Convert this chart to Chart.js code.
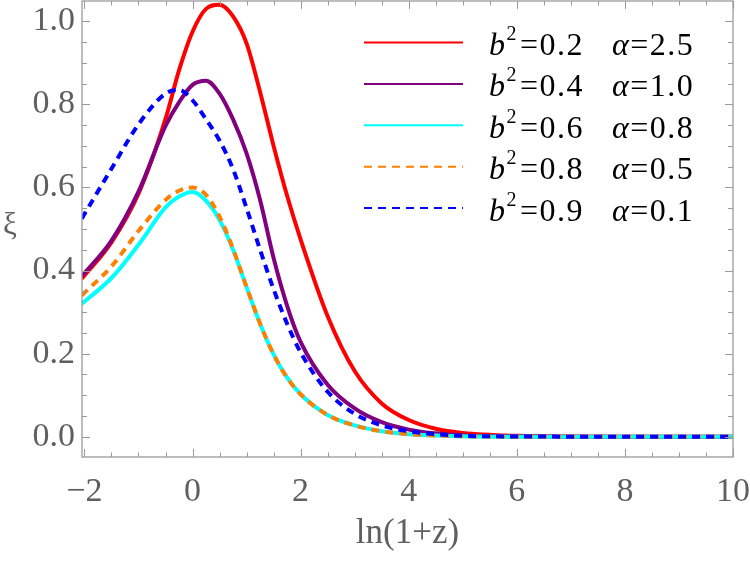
<!DOCTYPE html>
<html>
<head>
<meta charset="utf-8">
<script src="https://cdn.jsdelivr.net/npm/chart.js@4.4.1/dist/chart.umd.min.js"></script>
<style>
  body { margin: 0; background: #fff; }
  #wrap { width: 750px; height: 561px; }
</style>
</head>
<body>
<div id="wrap"><canvas id="myChart" width="750" height="561"></canvas></div>
<script>
// values, x = ln(1+z)
let xValues = [-2.05, -1.5, -1, -0.5, -0.25, 0, 0.25, 0.5, 0.75, 1, 1.25, 1.5, 1.75, 2, 2.5, 3, 3.5, 4, 4.5, 5, 6, 7, 8, 10];
let redXi    = [0.380, 0.468, 0.585, 0.765, 0.882, 0.975, 1.030, 1.040, 1.012, 0.947, 0.830, 0.700, 0.580, 0.475, 0.290, 0.158, 0.080, 0.040, 0.019, 0.009, 0.002, 0.0004, 0, 0];
let purpleXi = [0.386, 0.472, 0.590, 0.748, 0.805, 0.847, 0.857, 0.826, 0.764, 0.682, 0.570, 0.430, 0.315, 0.228, 0.125, 0.068, 0.035, 0.017, 0.008, 0.003, 0.001, 0, 0, 0];
let cyanXi   = [0.320, 0.382, 0.462, 0.552, 0.578, 0.589, 0.568, 0.522, 0.450, 0.360, 0.272, 0.198, 0.142, 0.102, 0.052, 0.027, 0.013, 0.006, 0.003, 0.001, 0, 0, 0, 0];
let orangeXi = [0.340, 0.410, 0.495, 0.570, 0.592, 0.600, 0.582, 0.530, 0.452, 0.360, 0.272, 0.198, 0.142, 0.102, 0.052, 0.027, 0.013, 0.006, 0.003, 0.001, 0, 0, 0, 0];
let blueXi   = [0.525, 0.645, 0.752, 0.826, 0.835, 0.810, 0.764, 0.713, 0.644, 0.550, 0.450, 0.355, 0.272, 0.203, 0.108, 0.055, 0.027, 0.013, 0.006, 0.002, 0.0005, 0, 0, 0];

let bSquared = ['0.2', '0.4', '0.6', '0.8', '0.9'];
let alphas = ['2.5', '1.0', '0.8', '0.5', '0.1'];

let xTicks = [-2, 0, 2, 4, 6, 8, 10];
let yTicks = [0, 0.2, 0.4, 0.6, 0.8, 1.0];

// styles
let colors = ['#ff0000', '#800080', '#00ffff', '#ff8000', '#0000ff'];
let dashes = [[], [], [], [8, 6], [8, 6]];
let frameColor = '#9a9a9a';
let labelColor = '#5f5f5f';
let serif = '"Liberation Serif", "Times New Roman", serif';

function points(ys) {
  return xValues.map((x, i) => ({ x: x, y: ys[i] }));
}

let series = [redXi, purpleXi, cyanXi, orangeXi, blueXi];
let datasets = series.map((ys, i) => ({
  data: points(ys),
  borderColor: colors[i],
  borderWidth: 4,
  borderDash: dashes[i],
  pointRadius: 0,
  fill: false,
  cubicInterpolationMode: 'monotone',
  order: 5 - i
}));

// Mathematica style frame with inward ticks, plus xi label and legend
const framePlugin = {
  id: 'frame',
  afterDatasetsDraw(chart) {
    let { ctx, chartArea: a, scales: { x, y } } = chart;
    ctx.save();
    ctx.strokeStyle = frameColor;
    ctx.lineWidth = 1.3;
    ctx.strokeRect(a.left, a.top, a.right - a.left, a.bottom - a.top);
    ctx.lineWidth = 1;
    ctx.beginPath();
    for (let i = -4; i <= 20; i++) {
      let px = Math.round(x.getPixelForValue(i * 0.5)) + 0.5;
      let len = i % 4 === 0 ? 8 : 4.5;
      ctx.moveTo(px, a.bottom); ctx.lineTo(px, a.bottom - len);
      ctx.moveTo(px, a.top); ctx.lineTo(px, a.top + len);
    }
    for (let i = 0; i <= 20; i++) {
      let py = Math.round(y.getPixelForValue(i * 0.05)) + 0.5;
      let len = i % 4 === 0 ? 8 : 5;
      ctx.moveTo(a.left, py); ctx.lineTo(a.left + len, py);
      ctx.moveTo(a.right, py); ctx.lineTo(a.right - len, py);
    }
    ctx.stroke();

    // y label, upright
    ctx.fillStyle = labelColor;
    ctx.font = '31px ' + serif;
    ctx.textAlign = 'center';
    ctx.textBaseline = 'alphabetic';
    ctx.fillText('ξ', 10, 234);

    // legend
    ctx.textAlign = 'left';
    for (let i = 0; i < colors.length; i++) {
      let ly = 42.5 + i * 41.4;
      ctx.strokeStyle = colors[i];
      ctx.lineWidth = 2;
      ctx.setLineDash(dashes[i]);
      ctx.beginPath();
      ctx.moveTo(364, ly); ctx.lineTo(463, ly);
      ctx.stroke();
      ctx.setLineDash([]);

      let base = ly + 12.5;
      let tx = 489;
      ctx.fillStyle = '#000';
      ctx.letterSpacing = '1.5px';
      ctx.font = 'italic 32px ' + serif;
      ctx.fillText('b', tx, base);
      tx += ctx.measureText('b').width;
      ctx.font = '20px ' + serif;
      ctx.fillText('2', tx, base - 15);
      tx += ctx.measureText('2').width + 2;
      ctx.font = '32px ' + serif;
      ctx.fillText('=' + bSquared[i], tx, base);
      ctx.font = 'italic 32px ' + serif;
      ctx.fillText('α', 612, base);
      let ax = 612 + ctx.measureText('α').width;
      ctx.font = '32px ' + serif;
      ctx.fillText('=' + alphas[i], ax, base);
      ctx.letterSpacing = '0px';
    }
    ctx.restore();
  }
};

let ctx = document.getElementById('myChart').getContext('2d');

let myChart = new Chart(ctx, {
  type: 'line',
  data: { datasets: datasets },
  options: {
    responsive: false,
    animation: false,
    layout: { padding: { left: 0, right: 17, top: 1, bottom: 0 } },
    plugins: { legend: { display: false }, tooltip: { enabled: false } },
    scales: {
      x: {
        type: 'linear',
        min: -2.045,
        max: 10,
        grid: { display: false, drawTicks: false },
        border: { display: false },
        afterBuildTicks: s => { s.ticks = xTicks.map(v => ({ value: v })); },
        afterFit: s => { s.height = 104; s.paddingLeft = 0; s.paddingRight = 0; },
        ticks: {
          padding: 15,
          maxRotation: 0,
          color: labelColor,
          font: { family: serif, size: 34 },
          callback: v => v < 0 ? '\u2212' + Math.abs(v) : String(v)
        },
        title: {
          display: true,
          text: 'ln(1+z)',
          color: labelColor,
          font: { family: serif, size: 35 },
          padding: { top: 0, bottom: 6 }
        }
      },
      y: {
        min: -0.049,
        max: 1.049,
        grid: { display: false, drawTicks: false },
        border: { display: false },
        afterBuildTicks: s => { s.ticks = yTicks.map(v => ({ value: v })); },
        afterFit: s => { s.width = 82; s.paddingTop = 0; s.paddingBottom = 0; },
        ticks: {
          padding: 7,
          color: labelColor,
          font: { family: serif, size: 34 },
          callback: v => v.toFixed(1)
        }
      }
    }
  },
  plugins: [framePlugin]
});
</script>
</body>
</html>
